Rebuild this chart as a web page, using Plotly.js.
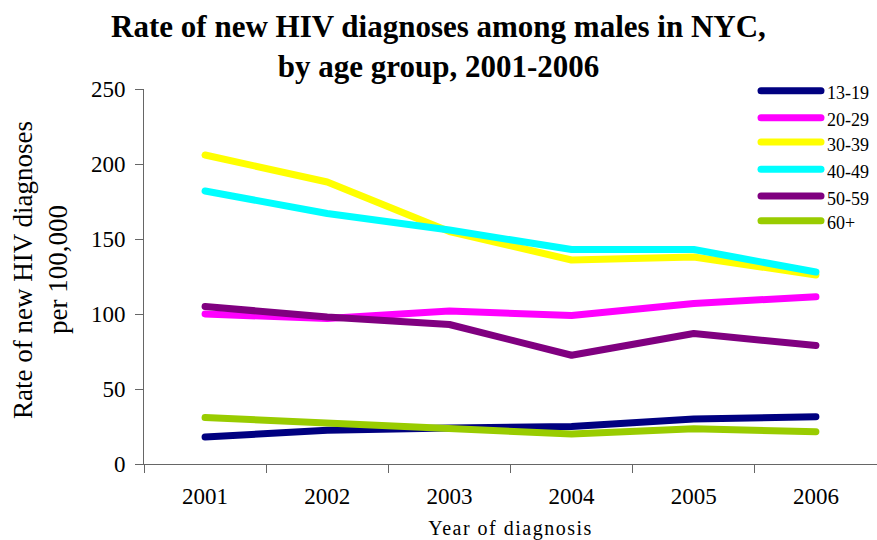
<!DOCTYPE html>
<html>
<head>
<meta charset="utf-8">
<script src="https://cdn.plot.ly/plotly-3.0.1.min.js"></script>
<style>
  html, body { margin: 0; padding: 0; background: #fff; }
  #chart { width: 877px; height: 540px; }
  .scatterlayer .js-line { stroke-linecap: round; stroke-linejoin: round; }
  .shapelayer path { stroke-linecap: round; }
  .xtitle { letter-spacing: 1.5px; }
</style>
</head>
<body>
<div id="chart"></div>
<script>
// Rate of new HIV diagnoses per 100,000 males, NYC, by age group
const years = ['2001', '2002', '2003', '2004', '2005', '2006'];
const ageGroups = ['13-19', '20-29', '30-39', '40-49', '50-59', '60+'];

const age13to19 = [18, 22.5, 24, 25, 30, 31.5];
const age20to29 = [100, 97, 102, 99, 107, 111.5];
const age30to39 = [206, 188, 155, 136, 138, 126];
const age40to49 = [182, 167, 156, 143, 143, 128];
const age50to59 = [105, 98, 93, 72.5, 87, 79];
const age60plus = [31, 27, 24, 20, 23.5, 21.5];

const yTitleLines = ['Rate of new HIV diagnoses', 'per 100,000'];

const seriesValues = [age13to19, age20to29, age30to39, age40to49, age50to59, age60plus];
const seriesColors = ['#000080', '#FF00FF', '#FFFF00', '#00FFFF', '#800080', '#99CC00'];

const W = 877, H = 540;
const margin = { l: 144, r: 0, t: 89, b: 76 };
const plotW = W - margin.l - margin.r;
const plotH = H - margin.t - margin.b;
const px2x = px => (px - margin.l) / plotW;
const px2y = py => (H - margin.b - py) / plotH;

const serif = '"Liberation Serif", "Times New Roman", serif';

const traces = seriesValues.map((vals, i) => ({
  type: 'scatter',
  mode: 'lines',
  name: ageGroups[i],
  x: years,
  y: vals,
  line: { color: seriesColors[i], width: 7 },
  showlegend: false,
  hoverinfo: 'x+y+name'
}));

// Legend drawn as line samples with labels at the upper right
const legendRows = [90.7, 117.7, 142, 169.3, 196, 220.7];
const shapes = [];
const annotations = [];
ageGroups.forEach((g, i) => {
  shapes.push({
    type: 'line', xref: 'paper', yref: 'paper',
    x0: px2x(761), x1: px2x(821),
    y0: px2y(legendRows[i]), y1: px2y(legendRows[i]),
    line: { color: seriesColors[i], width: 7 }
  });
  annotations.push({
    xref: 'paper', yref: 'paper',
    x: px2x(825), y: px2y(legendRows[i] + 2.5),
    xanchor: 'left', yanchor: 'middle',
    text: g, showarrow: false,
    font: { family: serif, size: 18, color: '#000' }
  });
});

// Two-line vertical y-axis title
const yTitleCenters = [[23, 270], [58, 270]];
yTitleLines.forEach((t, i) => {
  annotations.push({
    xref: 'paper', yref: 'paper',
    x: px2x(yTitleCenters[i][0]), y: px2y(yTitleCenters[i][1]),
    xanchor: 'center', yanchor: 'middle',
    textangle: -90,
    text: t, showarrow: false,
    font: { family: serif, size: 27, color: '#000' }
  });
});

const layout = {
  width: W, height: H,
  margin: margin,
  paper_bgcolor: '#fff',
  plot_bgcolor: '#fff',
  title: {
    text: '<b>Rate of new HIV diagnoses among males in NYC,<br>by age group, 2001-2006</b>',
    font: { family: serif, size: 31, color: '#000' },
    x: 0.5, xanchor: 'center',
    y: 1 - 37 / H, yanchor: 'middle', yref: 'container'
  },
  xaxis: {
    type: 'category',
    range: [-0.5, 5.5],
    tickson: 'boundaries',
    ticks: 'outside', ticklen: 8, tickcolor: '#666', tickwidth: 1,
    showline: true, linecolor: '#666', linewidth: 1,
    showgrid: false, zeroline: false,
    tickfont: { family: serif, size: 23, color: '#000' },
    ticklabelstandoff: 11,
    title: {
      text: 'Year of diagnosis',
      font: { family: serif, size: 20, color: '#000' },
      standoff: 17
    }
  },
  yaxis: {
    range: [0, 250],
    tickvals: [0, 50, 100, 150, 200, 250],
    ticks: 'outside', ticklen: 8, tickcolor: '#666', tickwidth: 1,
    showline: true, linecolor: '#666', linewidth: 1,
    showgrid: false, zeroline: false,
    tickfont: { family: serif, size: 23, color: '#000' },
    ticklabelstandoff: 5
  },
  shapes: shapes,
  annotations: annotations,
  showlegend: false
};

Plotly.newPlot('chart', traces, layout, { displayModeBar: false, responsive: false });
</script>
</body>
</html>
